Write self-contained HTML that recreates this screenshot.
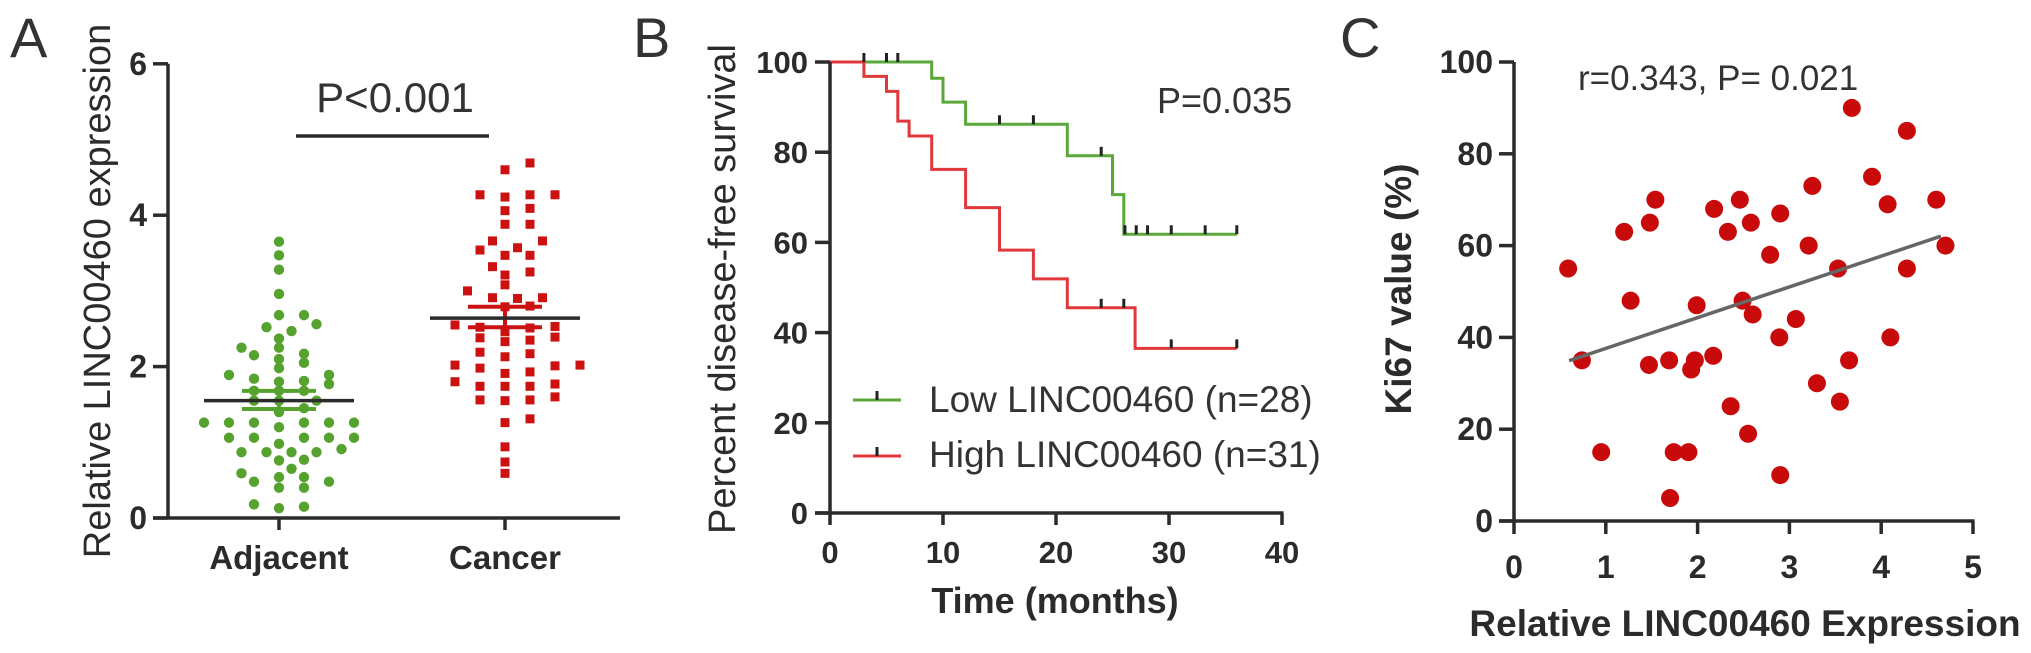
<!DOCTYPE html>
<html><head><meta charset="utf-8">
<style>
html,body{margin:0;padding:0;background:#fff;}
svg{display:block;font-family:"Liberation Sans",Arial,sans-serif;}
</style></head>
<body>
<svg id="fig" width="2031" height="653" viewBox="0 0 2031 653" xmlns="http://www.w3.org/2000/svg"></svg>
<script>
// ---------- Panel A data ----------
const groupsA = ["Adjacent", "Cancer"];
const adjacentValues = [3.65,3.47,3.28,2.96,2.68,2.68,2.56,2.52,2.47,2.37,2.25,2.25,2.17,2.15,2.10,2.05,1.98,1.89,1.89,1.84,1.81,1.80,1.77,1.68,1.68,1.68,1.55,1.55,1.55,1.45,1.40,1.26,1.26,1.26,1.26,1.26,1.26,1.20,1.06,1.06,1.06,1.06,1.06,0.98,0.91,0.87,0.87,0.87,0.87,0.77,0.76,0.65,0.59,0.54,0.54,0.48,0.48,0.40,0.40,0.18,0.15,0.13];
const cancerValues = [4.69,4.60,4.27,4.27,4.27,4.24,4.09,4.06,3.88,3.88,3.66,3.66,3.57,3.54,3.47,3.47,3.32,3.25,3.21,3.08,3.00,2.91,2.91,2.90,2.79,2.80,2.55,2.53,2.52,2.51,2.46,2.39,2.38,2.35,2.33,2.19,2.17,2.13,2.02,2.02,2.01,1.98,1.93,1.91,1.80,1.77,1.74,1.74,1.74,1.60,1.56,1.56,1.55,1.31,1.26,0.94,0.74,0.59];
const meansA = [1.55, 2.64];
const semHighA = [1.68, 2.79];
const semLowA = [1.44, 2.52];
const yTicksA = [0, 2, 4, 6];
// ---------- Panel B data ----------
const lowTimes =    [0, 9, 10, 12, 21, 25, 26, 36];
const lowSurvival = [100, 96.4, 91.1, 86.2, 79.2, 70.6, 61.8, 61.8];
const lowCensor = [3, 5, 6, 15, 18, 24, 26.1, 27.1, 28.1, 30.2, 33.2, 36];
const highTimes =    [0, 3, 5, 6, 7, 9, 12, 15, 18, 21, 27, 36];
const highSurvival = [100, 96.8, 93.5, 86.9, 83.6, 76.2, 67.7, 58.3, 51.9, 45.5, 36.5, 36.5];
const highCensor = [24, 26, 30.2, 36];
const xTicksB = [0, 10, 20, 30, 40];
const yTicksB = [0, 20, 40, 60, 80, 100];
// ---------- Panel C data ----------
const expressionC = [0.59,0.74,0.95,1.20,1.27,1.47,1.48,1.54,1.69,1.70,1.74,1.90,1.93,1.97,1.99,2.17,2.18,2.33,2.36,2.46,2.49,2.55,2.58,2.60,2.79,2.89,2.90,2.90,3.07,3.21,3.25,3.30,3.53,3.55,3.65,3.68,3.90,4.07,4.10,4.28,4.28,4.60,4.70];
const ki67C =       [55,35,15,63,48,34,65,70,35,5,15,15,33,35,47,36,68,63,25,70,48,19,65,45,58,40,67,10,44,60,73,30,55,26,35,90,75,69,40,55,85,70,60];
const fitC = [30.9, 6.7]; // intercept, slope
const fitRangeC = [0.6, 4.65];
const xTicksC = [0,1,2,3,4,5];
const yTicksC = [0,20,40,60,80,100];

const NS = "http://www.w3.org/2000/svg";
const svg = document.getElementById("fig");
function el(tag, attrs, parent) {
  const e = document.createElementNS(NS, tag);
  for (const k in attrs) e.setAttribute(k, attrs[k]);
  (parent || svg).appendChild(e);
  return e;
}
function txt(s, attrs, parent) { const t = el("text", attrs, parent); t.textContent = s; return t; }
const AX = "#2b2b2b";

// ================= Panel A =================
const gA = el("g", {});


const yA = v => 518 - v * 75.7;
const xA = i => [279, 505][i];
let t = txt("A", {x: 10, y: 57, "font-size": 56, fill: "#333"}, gA);
 
let yl = el("line", {x1:168,y1:yA(6),x2:168,y2:yA(0)+1.5,stroke:AX,"stroke-width":3.5}, gA);
 
let xl = el("line", {x1:153,y1:yA(0),x2:620,y2:yA(0),stroke:AX,"stroke-width":3.5}, gA);
 
yTicksA.forEach(v => {
  const tk = el("line", {x1:153,y1:yA(v),x2:168,y2:yA(v),stroke:AX,"stroke-width":3.5}, gA);
   
  const lb = txt(String(v), {x:147,y:yA(v)+11,"text-anchor":"end","font-size":32,"font-weight":"bold",fill:AX}, gA);
   
});
groupsA.forEach((g, i) => {
  const tk = el("line", {x1:xA(i),y1:yA(0),x2:xA(i),y2:yA(0)+12,stroke:AX,"stroke-width":3.5}, gA);
   
  const lb = txt(g, {x:xA(i),y:569,"text-anchor":"middle","font-size":33,"font-weight":"bold",fill:AX}, gA);
   
});
let ylab = txt("Relative LINC00460 expression", {x:0,y:0,transform:"translate(110,291) rotate(-90)","text-anchor":"middle","font-size":38,fill:AX}, gA);
 
let sig = el("line", {x1:296,y1:136,x2:489,y2:136,stroke:AX,"stroke-width":3.5}, gA);
 
let pA = txt("P<0.001", {x:395,y:112,"text-anchor":"middle","font-size":42,fill:"#333"}, gA);
 

function swarm(values, cx) {
  const placed = [];
  const sorted = values.map((v,i)=>({v,i})).sort((a,b)=>a.v-b.v);
  const cands = [0];
  for (let k=1;k<14;k++){ cands.push(k*12.5, -k*12.5); }
  sorted.forEach(p => {
    const y = yA(p.v);
    for (const off of cands) {
      const x = cx + off;
      if (placed.every(q => ((q.x-x)/22)**2 + ((q.y-y)/9)**2 >= 1)) { placed.push({x,y,v:p.v}); break; }
    }
  });
  return placed;
}
swarm(adjacentValues, xA(0)).forEach(p => {
  const c = el("circle", {cx:p.x, cy:p.y, r:5.2, fill:"#55a22e"}, gA);
   
});
swarm(cancerValues, xA(1)).forEach(p => {
  const r = el("rect", {x:p.x-4.5, y:p.y-4.5, width:9, height:9, fill:"#cc1111"}, gA);
   
});
groupsA.forEach((g, i) => {
  const col = i===0 ? "#55a22e" : "#cc1111";
  [semHighA[i], semLowA[i]].forEach(v => {
    const s = el("line", {x1:xA(i)-37,y1:yA(v),x2:xA(i)+37,y2:yA(v),stroke:col,"stroke-width":4}, gA);
     
  });
  const sv = el("line", {x1:xA(i),y1:yA(semHighA[i]),x2:xA(i),y2:yA(semLowA[i]),stroke:col,"stroke-width":4}, gA);
   
  const m = el("line", {x1:xA(i)-75,y1:yA(meansA[i]),x2:xA(i)+75,y2:yA(meansA[i]),stroke:AX,"stroke-width":3.5}, gA);
   
});

// ================= Panel B =================
const gB = el("g", {});


const xB = v => 830 + v * 11.3;
const yB = v => 513 - v * 4.51;
t = txt("B", {x: 633, y: 57, "font-size": 56, fill: "#333"}, gB);
 
function stepPath(ts, ss) {
  let d = "M" + xB(ts[0]) + "," + yB(ss[0]);
  for (let i=1;i<ts.length;i++){ d += " H" + xB(ts[i]) + " V" + yB(ss[i]); }
  return d;
}
function survAt(ts, ss, tm) { let s = ss[0]; for (let i=0;i<ts.length;i++) if (ts[i] <= tm) s = ss[i]; return s; }
let lp = el("path", {d:stepPath(lowTimes, lowSurvival), fill:"none", stroke:"#5aa83a","stroke-width":3}, gB);
 
let hp = el("path", {d:stepPath(highTimes, highSurvival), fill:"none", stroke:"#e0393c","stroke-width":3}, gB);
 
lowCensor.forEach(c => {
  const y = yB(survAt(lowTimes, lowSurvival, c));
  const m = el("line", {x1:xB(c),y1:y-9,x2:xB(c),y2:y,stroke:"#222","stroke-width":3}, gB);
   
});
highCensor.forEach(c => {
  const y = yB(survAt(highTimes, highSurvival, c));
  const m = el("line", {x1:xB(c),y1:y-9,x2:xB(c),y2:y,stroke:"#222","stroke-width":3}, gB);
   
});
yl = el("line", {x1:830,y1:yB(100),x2:830,y2:yB(0)+1.5,stroke:AX,"stroke-width":3.5}, gB);
 
xl = el("line", {x1:815,y1:yB(0),x2:xB(40)+1.5,y2:yB(0),stroke:AX,"stroke-width":3.5}, gB);
 
yTicksB.forEach(v => {
  const tk = el("line", {x1:815,y1:yB(v),x2:830,y2:yB(v),stroke:AX,"stroke-width":3.5}, gB);
   
  const lb = txt(String(v), {x:808,y:yB(v)+11,"text-anchor":"end","font-size":31,"font-weight":"bold",fill:AX}, gB);
   
});
xTicksB.forEach(v => {
  const tk = el("line", {x1:xB(v),y1:yB(0),x2:xB(v),y2:yB(0)+12,stroke:AX,"stroke-width":3.5}, gB);
   
  const lb = txt(String(v), {x:xB(v),y:563,"text-anchor":"middle","font-size":31,"font-weight":"bold",fill:AX}, gB);
   
});
ylab = txt("Percent disease-free survival", {x:0,y:0,transform:"translate(735,289) rotate(-90)","text-anchor":"middle","font-size":38,fill:AX}, gB);
 
let xlab = txt("Time (months)", {x:1055,y:613,"text-anchor":"middle","font-size":36,"font-weight":"bold",fill:AX}, gB);
 
let pB = txt("P=0.035", {x:1157,y:113,"font-size":36,fill:"#333"}, gB);
 
[["Low LINC00460 (n=28)", "#5aa83a", 400, 412, "legend-entry-low"], ["High LINC00460 (n=31)", "#e0393c", 456, 467, "legend-entry-high"]].forEach(L => {
  const g = el("g", {}, gB);
   
  el("line", {x1:853,y1:L[2],x2:901,y2:L[2],stroke:L[1],"stroke-width":3}, g);
  el("line", {x1:877,y1:L[2]-9,x2:877,y2:L[2],stroke:"#222","stroke-width":3}, g);
  txt(L[0], {x:929,y:L[3],"font-size":37,fill:"#333"}, g);
});

// ================= Panel C =================
const gC = el("g", {});


const xC = v => 1514 + v * 91.8;
const yC = v => 521 - v * 4.59;
t = txt("C", {x: 1340, y: 57, "font-size": 56, fill: "#333"}, gC);
 
yl = el("line", {x1:1514,y1:yC(100),x2:1514,y2:yC(0)+1.5,stroke:AX,"stroke-width":3.5}, gC);
 
xl = el("line", {x1:1499,y1:yC(0),x2:xC(5)+1.5,y2:yC(0),stroke:AX,"stroke-width":3.5}, gC);
 
yTicksC.forEach(v => {
  const tk = el("line", {x1:1499,y1:yC(v),x2:1514,y2:yC(v),stroke:AX,"stroke-width":3.5}, gC);
   
  const lb = txt(String(v), {x:1493,y:yC(v)+11,"text-anchor":"end","font-size":32,"font-weight":"bold",fill:AX}, gC);
   
});
xTicksC.forEach(v => {
  const tk = el("line", {x1:xC(v),y1:yC(0),x2:xC(v),y2:yC(0)+13,stroke:AX,"stroke-width":3.5}, gC);
   
  const lb = txt(String(v), {x:xC(v),y:578,"text-anchor":"middle","font-size":32,"font-weight":"bold",fill:AX}, gC);
   
});
ylab = txt("Ki67 value (%)", {x:0,y:0,transform:"translate(1411,289) rotate(-90)","text-anchor":"middle","font-size":37,"font-weight":"bold",fill:AX}, gC);
 
xlab = txt("Relative LINC00460 Expression", {x:1745,y:636,"text-anchor":"middle","font-size":37,"font-weight":"bold",fill:AX}, gC);
 
let rC = txt("r=0.343, P= 0.021", {x:1578,y:90,"font-size":35,fill:"#333"}, gC);
 
expressionC.forEach((x, i) => {
  const c = el("circle", {cx:xC(x), cy:yC(ki67C[i]), r:9, fill:"#c80a0a"}, gC);
   
});
let fit = el("line", {x1:xC(fitRangeC[0]),y1:yC(fitC[0]+fitC[1]*fitRangeC[0]),x2:xC(fitRangeC[1]),y2:yC(fitC[0]+fitC[1]*fitRangeC[1]),stroke:"#666","stroke-width":3.5}, gC);
 
</script>
</body></html>
